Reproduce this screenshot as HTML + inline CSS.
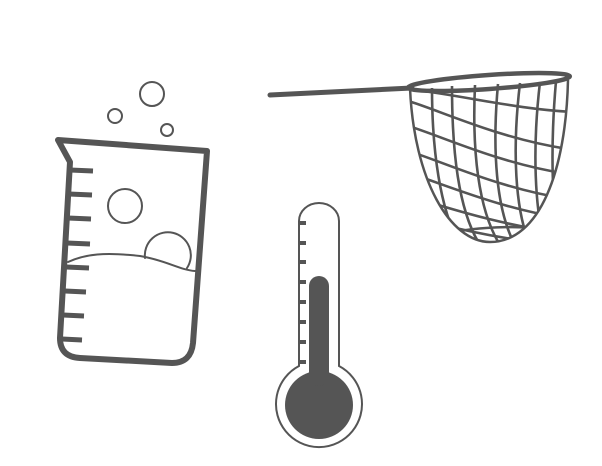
<!DOCTYPE html>
<html><head><meta charset="utf-8"><style>
html,body{margin:0;padding:0;background:#fff;}
svg{display:block;}
</style></head><body>
<svg width="602" height="466" viewBox="0 0 602 466">
<defs>
<clipPath id="bagclip"><path d="M410,88 C414,180 450,242 490,242 C540,242 566,170 568,80 Z"/></clipPath>
</defs>
<g fill="none" stroke="#555" stroke-linecap="round">
  <path d="M58,140 L207,151 L193,343 Q191,363 172,363 L80,358 Q60,357 60,338 L70,162 Z" stroke-width="6" stroke-linejoin="round"/>
  <g stroke-width="5" stroke-linecap="butt">
    <line x1="70" y1="170" x2="93" y2="171"/>
    <line x1="69" y1="194" x2="92" y2="195"/>
    <line x1="68" y1="218" x2="91" y2="219"/>
    <line x1="67" y1="243" x2="90" y2="244"/>
    <line x1="66" y1="267" x2="89" y2="268"/>
    <line x1="65" y1="291" x2="86" y2="292"/>
    <line x1="63" y1="315" x2="84" y2="316"/>
    <line x1="62" y1="339" x2="82" y2="340"/>
  </g>
  <path d="M68,262 C85,254 105,252 140,256 C165,260 180,270 195,271" stroke-width="2"/>
  <circle cx="152" cy="94" r="12" stroke-width="2"/>
  <circle cx="115" cy="116" r="7" stroke-width="2"/>
  <circle cx="167" cy="130" r="6" stroke-width="2"/>
  <circle cx="125" cy="206" r="17" stroke-width="2"/>
  <path d="M145,258 A23,23 0 1 1 187,268" stroke-width="2"/>
</g>
<g fill="none" stroke="#555">
  <line x1="270" y1="95" x2="412" y2="88" stroke-width="5" stroke-linecap="round"/>
  <g clip-path="url(#bagclip)" stroke-width="2.6">
    <path d="M432,88 C432,150 440,210 460,245"/>
    <path d="M452,86 C452,150 458,210 480,245"/>
    <path d="M475,85 C472,150 478,210 500,245"/>
    <path d="M498,84 C492,150 496,210 515,245"/>
    <path d="M520,83 C512,150 515,210 530,245"/>
    <path d="M540,82 C532,150 535,210 545,245"/>
    <path d="M556,81 C550,150 552,210 560,245"/>
    <path d="M405,100 C440,110 500,140 575,150"/>
    <path d="M405,125 C440,135 500,165 575,175"/>
    <path d="M405,150 C440,160 500,190 575,200"/>
    <path d="M405,172 C440,182 500,210 575,220"/>
    <path d="M405,195 C440,205 495,225 575,235"/>
    <path d="M405,215 C440,225 490,238 575,248"/>
    <path d="M415,90 C460,95 520,110 575,112"/>
    <path d="M440,235 C480,225 530,225 575,232"/>
  </g>
  <path d="M410,88 C414,180 450,242 490,242 C540,242 566,170 568,80" stroke-width="2.5"/>
  <ellipse cx="489" cy="82" rx="81" ry="7" transform="rotate(-4 489 82)" stroke-width="4.5"/>
</g>
<g stroke="#555">
  <path d="M299,366 L299,221 A20,18 0 0 1 339,221 L339,366 A43,43 0 1 1 299,366 Z" fill="#fff" stroke-width="2"/>
  <circle cx="319" cy="405" r="34" fill="#555" stroke="none"/>
  <rect x="309" y="276" width="20" height="110" rx="10" fill="#555" stroke="none"/>
  <g stroke-width="4">
    <line x1="299" y1="223" x2="306" y2="223"/>
    <line x1="299" y1="243" x2="306" y2="243"/>
    <line x1="299" y1="262" x2="306" y2="262"/>
    <line x1="299" y1="282" x2="306" y2="282"/>
    <line x1="299" y1="302" x2="306" y2="302"/>
    <line x1="299" y1="322" x2="306" y2="322"/>
    <line x1="299" y1="342" x2="306" y2="342"/>
    <line x1="299" y1="362" x2="306" y2="362"/>
  </g>
</g>
</svg>
</body></html>
